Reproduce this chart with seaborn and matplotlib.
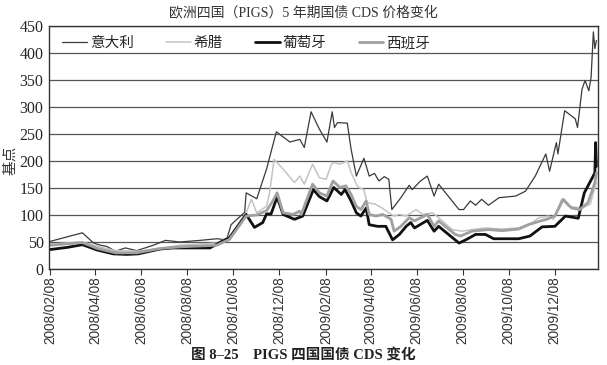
import matplotlib
matplotlib.use("Agg")
import matplotlib.pyplot as plt
import matplotlib.dates as mdates
import pandas as pd
import seaborn as sns

# days since 2008-02-08 and CDS values (bp)
start = pd.Timestamp("2008-02-08")

italy_days = [0, 43, 58, 67, 75, 87, 100, 115, 137, 153, 172, 199, 221, 234, 240, 258, 260, 274, 287,
              300, 318, 331, 337, 346, 357, 367, 374, 377, 381, 394, 399, 406, 416, 423, 430, 436, 443,
              449, 453, 465, 476, 480, 491, 500, 509, 515, 542, 548, 557, 564, 572, 581, 595, 617, 630,
              643, 657, 662, 671, 673, 682, 696, 699, 705, 709, 714, 717, 720, 722, 724]
italy_vals = [51, 67, 48, 44, 42, 33, 39, 34, 44, 53, 50, 53, 56, 54, 82, 105, 141, 130, 185,
              254, 235, 240, 225, 291, 259, 235, 291, 262, 271, 270, 222, 172, 205, 172, 177, 163, 171,
              166, 110, 132, 155, 147, 163, 172, 135, 157, 110, 110, 126, 118, 129, 118, 132, 135, 144,
              172, 213, 181, 234, 213, 293, 278, 262, 333, 349, 330, 355, 439, 408, 423]

greece_days = [0, 43, 63, 87, 115, 146, 172, 221, 238, 260, 267, 274, 287, 291, 297, 309, 324, 331, 337,
               348, 357, 366, 373, 377, 384, 394, 399, 406, 409, 416, 420, 431, 440, 449, 456, 463, 472,
               485, 494, 507, 515, 533, 546, 559, 577, 599, 621, 639, 648, 661, 667, 678, 687, 705, 716,
               720, 724]
greece_vals = [46, 50, 42, 34, 33, 38, 44, 48, 60, 104, 129, 104, 116, 141, 203, 185, 160, 172, 157,
               194, 169, 166, 194, 197, 194, 200, 179, 157, 151, 147, 123, 120, 113, 104, 98, 101, 98,
               110, 101, 104, 95, 73, 70, 73, 76, 74, 76, 86, 95, 98, 92, 129, 116, 113, 120,
               141, 160]

portugal_days = [0, 23, 43, 63, 84, 102, 117, 146, 164, 212, 225, 238, 260, 271, 282, 287, 293, 301, 309,
                 324, 335, 349, 357, 367, 376, 386, 391, 399, 406, 412, 419, 423, 434, 445, 454, 463, 472,
                 478, 483, 500, 509, 515, 542, 551, 564, 577, 588, 621, 636, 652, 669, 683, 700, 708, 722,
                 723, 724]
portugal_vals = [36, 40, 45, 35, 28, 27, 28, 37, 39, 39, 49, 58, 101, 77, 86, 102, 102, 133, 101,
                 92, 98, 147, 134, 126, 151, 138, 147, 126, 104, 98, 113, 82, 79, 79, 54, 64, 79,
                 86, 76, 90, 70, 79, 48, 54, 64, 64, 56, 56, 61, 78, 79, 98, 94, 141, 178,
                 234, 190]

spain_days = [0, 43, 63, 87, 115, 146, 172, 221, 238, 260, 274, 287, 295, 301, 309, 322, 331, 333, 348,
              357, 367, 375, 384, 392, 399, 406, 412, 419, 423, 432, 441, 452, 456, 465, 476, 483, 500,
              509, 515, 537, 544, 559, 581, 599, 621, 634, 650, 658, 669, 680, 691, 702, 713, 722, 724]
spain_vals = [44, 49, 38, 30, 30, 38, 41, 44, 55, 98, 100, 108, 125, 141, 104, 101, 107, 101, 157,
              141, 135, 163, 151, 154, 138, 116, 110, 126, 101, 98, 101, 92, 70, 79, 95, 89, 101,
              79, 89, 64, 61, 70, 73, 71, 74, 82, 89, 92, 98, 129, 113, 110, 123, 160, 178]

names = ["意大利", "希腊", "葡萄牙", "西班牙"]
colors = ["#3a3a3a", "#c4c4c4", "#111111", "#a0a0a0"]
widths = [0.9, 1.1, 2.0, 2.0]
yticks = list(range(0, 451, 50))
xtick_dates = pd.date_range("2008-02-01", "2009-12-01", freq="2MS") + pd.Timedelta(days=7)

series = [(italy_days, italy_vals), (greece_days, greece_vals),
          (portugal_days, portugal_vals), (spain_days, spain_vals)]

sns.set_style("white")
plt.rcParams['font.family'] = ['Liberation Serif', 'Noto Sans CJK SC']
plt.rcParams['axes.unicode_minus'] = False

fig = plt.figure(figsize=(6.07, 3.65), dpi=100)
ax = fig.add_axes([0.081, 0.263, 0.904, 0.666])

for (d, v), name, c, w in zip(series, names, colors, widths):
    df = pd.DataFrame({"date": start + pd.to_timedelta(d, unit="D"), "val": v})
    sns.lineplot(data=df, x="date", y="val", ax=ax, color=c, linewidth=w, label=name)

ax.set_ylim(0, 450)
ax.set_yticks(yticks)
ax.set_xlim(start - pd.Timedelta(days=1), start + pd.Timedelta(days=726))
ax.set_xticks(xtick_dates)
ax.xaxis.set_major_formatter(mdates.DateFormatter("%Y/%m/%d"))
ax.tick_params(axis="x", rotation=90, labelsize=9.8, length=4, direction="out", color="#333333",
               bottom=True, pad=1)
ax.tick_params(axis="y", labelsize=11.5, length=0, pad=4)
for lbl in ax.get_xticklabels():
    lbl.set_fontfamily(["Liberation Sans", "DejaVu Sans"])
    lbl.set_color("#333333")
ax.yaxis.grid(True, color="#555555", linewidth=0.9)
ax.xaxis.grid(False)
for s in ax.spines.values():
    s.set_color("#333333")
    s.set_linewidth(1.0)
ax.set_xlabel("")
ax.set_ylabel("")

leg = ax.legend(loc="upper left", bbox_to_anchor=(0.0, 1.01), ncol=4, frameon=False,
                fontsize=10.5, handlelength=1.7, columnspacing=2.2, handletextpad=0.2)

fig.text(0.017, 0.56, "基点", rotation=90, ha="center", va="center", fontsize=10.5, color="#333333")
fig.text(0.5, 0.965, "欧洲四国（PIGS）5 年期国债 CDS 价格变化", ha="center", va="center",
         fontsize=10, color="#333333")
fig.text(0.5, 0.028, "图 8–25    PIGS 四国国债 CDS 变化", ha="center", va="center",
         fontsize=10.5, fontweight="bold", color="#222222")

fig.savefig("out.png", dpi=100)
